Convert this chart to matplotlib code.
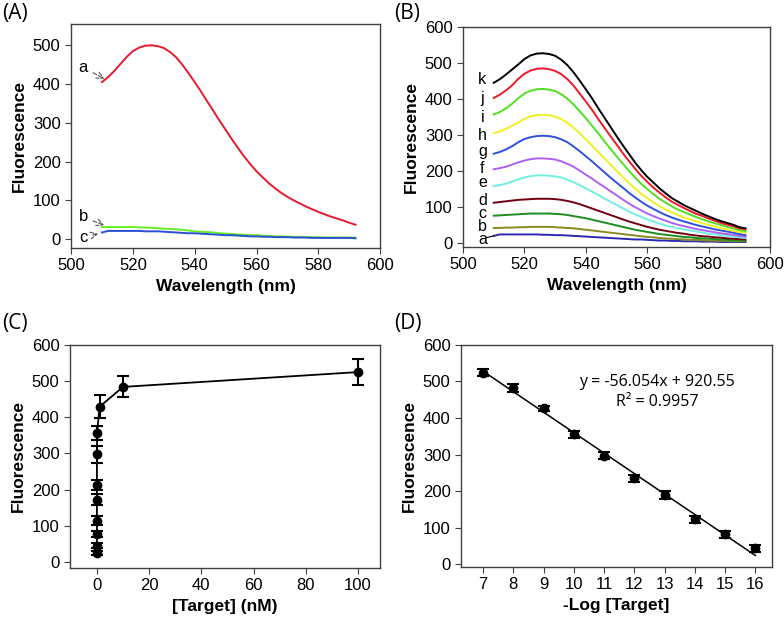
import numpy as np
import matplotlib
matplotlib.use('Agg')
import matplotlib.pyplot as plt

plt.rcParams['font.family'] = 'Liberation Sans'

# emission wavelengths (nm)
wl = list(range(510, 593, 2))

# panel A spectra
a_red = [405, 418, 434, 452, 470, 485, 494, 499, 500, 498,
         493, 483, 469, 450, 428, 405, 381, 356, 331, 306,
         282, 258, 235, 213, 193, 175, 159, 144, 131, 119,
         109, 100, 92, 84, 77, 70, 64, 58, 53, 48,
         42, 37]
b_green = [31, 31, 31, 31, 31, 31, 30, 30, 29, 28,
           27, 26, 25, 24, 22, 20, 19, 18, 17, 15,
           14, 13, 12, 11, 10, 10, 9, 8, 7, 7,
           6, 6, 5, 5, 5, 5, 4, 4, 4, 4,
           4, 4]
c_blue = [17, 21, 21, 21, 21, 21, 21, 20, 20, 20,
          19, 18, 17, 16, 15, 15, 14, 13, 12, 11,
          10, 10, 9, 8, 7, 7, 6, 6, 5, 5,
          5, 4, 4, 4, 3, 3, 3, 3, 3, 3,
          3, 2]

# panel B spectra, a..k
spec_b = {
    'a': [20, 24, 24, 24, 24, 24, 24, 24, 23, 23,
          22, 22, 21, 20, 19, 18, 17, 16, 15, 14,
          13, 12, 11, 10, 10, 9, 8, 7, 7, 6,
          6, 5, 5, 5, 4, 4, 4, 3, 3, 3,
          3, 3],
    'b': [42, 42, 43, 43, 44, 44, 45, 45, 45, 45,
          44, 43, 42, 41, 39, 37, 35, 33, 31, 29,
          27, 25, 23, 21, 19, 17, 16, 14, 13, 12,
          11, 10, 9, 9, 8, 7, 7, 6, 6, 5,
          5, 5],
    'c': [76, 77, 78, 79, 80, 81, 82, 82, 82, 82,
          81, 80, 78, 75, 72, 69, 65, 61, 57, 53,
          49, 45, 41, 37, 34, 31, 28, 25, 23, 21,
          19, 17, 16, 14, 13, 12, 11, 10, 9, 8,
          8, 7],
    'd': [112, 114, 116, 118, 120, 121, 122, 123, 123, 123,
          122, 120, 117, 113, 108, 102, 96, 90, 84, 78,
          72, 66, 60, 55, 50, 45, 41, 37, 34, 31,
          28, 26, 23, 21, 19, 18, 16, 15, 13, 12,
          11, 10],
    'e': [158, 161, 165, 171, 177, 182, 186, 188, 188, 187,
          185, 182, 176, 169, 161, 152, 143, 134, 124, 115,
          106, 97, 88, 80, 73, 66, 60, 54, 49, 45,
          41, 38, 35, 32, 29, 26, 24, 22, 20, 18,
          16, 14],
    'f': [205, 208, 212, 218, 224, 229, 233, 235, 235, 234,
          232, 227, 220, 212, 201, 190, 179, 167, 156, 144,
          133, 121, 110, 100, 91, 82, 75, 68, 62, 56,
          51, 47, 43, 39, 36, 33, 30, 27, 25, 23,
          20, 18],
    'g': [248, 253, 260, 269, 280, 289, 294, 297, 298, 297,
          294, 288, 280, 268, 255, 241, 227, 212, 197, 182,
          168, 154, 140, 127, 115, 104, 95, 86, 78, 71,
          65, 60, 55, 50, 46, 42, 38, 35, 32, 29,
          25, 22],
    'h': [305, 310, 317, 326, 335, 345, 352, 355, 356, 355,
          351, 344, 334, 320, 305, 288, 271, 253, 236, 218,
          201, 184, 167, 152, 137, 125, 113, 103, 93, 85,
          78, 71, 66, 60, 55, 50, 46, 41, 38, 34,
          31, 29],
    'i': [357, 364, 374, 387, 402, 415, 423, 427, 428, 426,
          422, 413, 401, 385, 366, 347, 326, 305, 283, 262,
          241, 221, 201, 182, 165, 150, 136, 123, 112, 102,
          93, 86, 79, 72, 66, 60, 55, 50, 45, 41,
          36, 33],
    'j': [403, 412, 424, 438, 456, 470, 479, 484, 485, 483,
          478, 469, 455, 437, 415, 393, 370, 345, 321, 297,
          274, 250, 228, 207, 187, 170, 154, 140, 127, 115,
          106, 97, 89, 81, 75, 68, 62, 56, 51, 47,
          41, 38],
    'k': [445, 455, 468, 482, 496, 511, 521, 526, 527, 525,
          520, 509, 494, 474, 451, 427, 402, 375, 349, 323,
          297, 272, 248, 224, 203, 184, 168, 152, 138, 125,
          115, 105, 97, 89, 81, 74, 67, 61, 56, 51,
          44, 41],
}
colors_b = {'a': '#2a2ab0', 'b': '#8a8a20', 'c': '#1e8c1e', 'd': '#700010',
            'e': '#70f0e0', 'f': '#b060f0', 'g': '#3050e0', 'h': '#f0f020',
            'i': '#50e020', 'j': '#f01828', 'k': '#000000'}
label_y_b = {'a': 11, 'b': 47, 'c': 83, 'd': 119, 'e': 167, 'f': 208,
             'g': 253, 'h': 300, 'i': 350, 'j': 400, 'k': 453}

# panel C: concentration (nM) vs fluorescence
conc = [0, 1e-7, 1e-6, 1e-5, 1e-4, 1e-3, 0.01, 0.1, 1, 10, 100]
fl_c = [25, 45, 77, 114, 172, 213, 297, 357, 429, 484, 525]
err_c = [6, 8, 8, 12, 15, 13, 23, 20, 32, 29, 35]

# panel D: -log[target]
neglog = [7, 8, 9, 10, 11, 12, 13, 14, 15, 16]
fl_d = [524, 482, 427, 355, 297, 235, 188, 123, 81, 43]
err_d = [10, 12, 7, 9, 9, 9, 11, 10, 10, 9]
slope, intercept = -56.054, 920.55

fig = plt.figure(figsize=(7.84, 6.27), dpi=100)
axA = fig.add_axes([0.0906, 0.6045, 0.3944, 0.3572])
axB = fig.add_axes([0.5906, 0.606, 0.3916, 0.351])
axC = fig.add_axes([0.0893, 0.0941, 0.3957, 0.3557])
axD = fig.add_axes([0.588, 0.0957, 0.397, 0.3541])

for ax in (axA, axB, axC, axD):
    for s in ax.spines.values():
        s.set_color('#404040')
        s.set_linewidth(1.0)
    ax.tick_params(direction='out', length=4, labelsize=12, color='#404040')
    ax.set_ylabel('Fluorescence', fontsize=12.5, fontweight='bold')

# (A)
axA.plot(wl, a_red, color='#e8192c', lw=1.4)
axA.plot(wl, b_green, color='#66ee22', lw=1.4)
axA.plot(wl, c_blue, color='#2a50d0', lw=1.4)
arr = dict(arrowstyle='->', color='#555555', lw=0.8, linestyle='--')
axA.annotate('a', xy=(511.6, 410), xytext=(503.9, 443), fontsize=12, ha='center', va='center', arrowprops=arr)
axA.annotate('b', xy=(511.6, 33), xytext=(503.9, 57), fontsize=12, ha='center', va='center', arrowprops=arr)
axA.annotate('c', xy=(509.7, 15), xytext=(503.9, 5), fontsize=12, ha='center', va='center', arrowprops=arr)
axA.set_xlim(500, 600)
axA.set_ylim(-23, 555)
axA.set_yticks(range(0, 501, 100))
axA.set_xticks(range(500, 601, 20))
axA.set_xlabel('Wavelength (nm)', fontsize=12.5, fontweight='bold')

# (B)
for key in spec_b:
    axB.plot(wl, spec_b[key], color=colors_b[key], lw=1.4)
    axB.text(506.3, label_y_b[key], key, fontsize=11.5, ha='center', va='center')
axB.plot([507.6, 510], [15, spec_b['a'][0]], color='black', lw=0.8)
axB.set_xlim(500, 600)
axB.set_ylim(-11, 600)
axB.set_yticks(range(0, 601, 100))
axB.set_xticks(range(500, 601, 20))
axB.set_xlabel('Wavelength (nm)', fontsize=12.5, fontweight='bold')

# (C)
axC.errorbar(conc, fl_c, yerr=err_c, color='black', marker='o', ms=6,
             lw=1.3, elinewidth=1.5, capsize=4, capthick=1.5)
axC.set_xlim(-10.3, 108.5)
axC.set_ylim(-17, 600)
axC.set_xticks(range(0, 101, 20))
axC.set_yticks(range(0, 601, 100))
axC.set_xlabel('[Target] (nM)', fontsize=12.5, fontweight='bold')

# (D)
axD.errorbar(neglog, fl_d, yerr=err_d, color='black', marker='o', ms=6,
             ls='none', elinewidth=1.5, capsize=4, capthick=1.5)
fx = np.array([neglog[0], neglog[-1]])
axD.plot(fx, slope * fx + intercept, color='black', lw=1.1)
axD.text(12.75, 499, 'y = -56.054x + 920.55', fontsize=11.5, ha='center', va='center', family='Open Sans')
axD.text(12.75, 444, 'R² = 0.9957', fontsize=11.5, ha='center', va='center', family='Open Sans')
axD.set_xlim(6.27, 16.56)
axD.set_ylim(-8, 600)
axD.set_xticks(neglog)
axD.set_yticks(range(0, 601, 100))
axD.set_xlabel('-Log [Target]', fontsize=12.5, fontweight='bold')

for txt, x, y in [('(A)', 0.003, 0.979), ('(B)', 0.503, 0.979),
                  ('(C)', 0.003, 0.484), ('(D)', 0.503, 0.484)]:
    fig.text(x, y, txt, fontsize=15, family='Open Sans', va='center')

fig.savefig('out.png', dpi=100)
